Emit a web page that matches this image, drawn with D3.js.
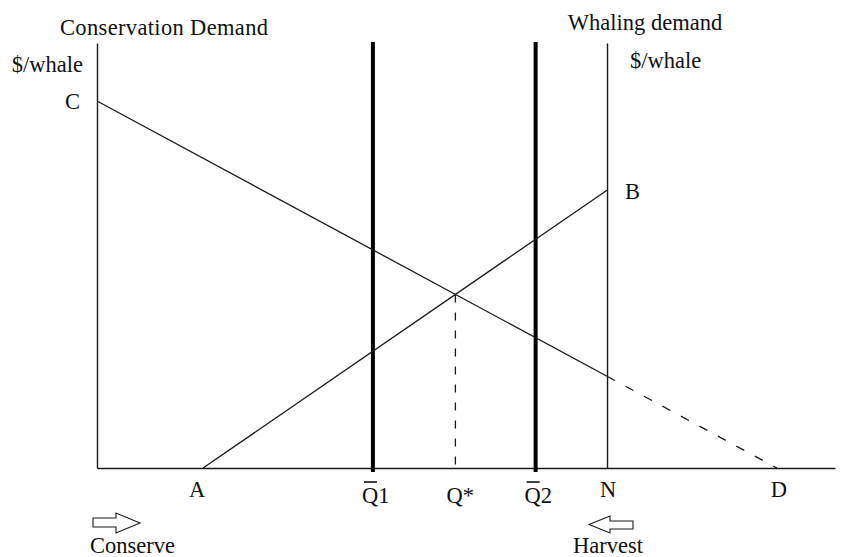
<!DOCTYPE html>
<html>
<head>
<meta charset="utf-8">
<script src="https://cdn.jsdelivr.net/npm/d3@7/dist/d3.min.js"></script>
<style>
  html, body { margin: 0; padding: 0; background: #fff; }
  svg text { font-family: "Liberation Serif", "Times New Roman", serif; font-size: 22.5px; fill: #111; }
</style>
</head>
<body>
<svg id="chart" width="846" height="557"></svg>
<script>
// ---- data (quantity of whales on x, $/whale on y) ----
const conservationDemandSolid = [{q: 0, p: 100}, {q: 100, p: 25}];
const conservationDemandDashed = [{q: 100, p: 25}, {q: 133.3, p: 0}];
const whalingDemand = [{q: 20.8, p: 0}, {q: 100, p: 75.7}];
const quotaLevels = [54.1, 86];
const quotaLabels = ["Q", "Q"];
const quotaSuffixes = ["1", "2"];
const pointLabels = ["A", "N", "D"];
const pointQ = [20.8, 100, 133.3];
const axisQMax = 144.7;
const axisPMax = 115.8;
const N = 100;

// ---- scales ----
const svg = d3.select("#chart");
const x = d3.scaleLinear().domain([0, axisQMax]).range([97, 835]);
const y = d3.scaleLinear().domain([0, axisPMax]).range([468, 43]);

const ink = "#1a1a1a";
const line = d3.line().x(d => x(d.q)).y(d => y(d.p));

function lineFn(pts) {
  const [a, b] = pts;
  const m = (b.p - a.p) / (b.q - a.q);
  return q => a.p + m * (q - a.q);
}
const cons = lineFn([conservationDemandSolid[0], conservationDemandDashed[1]]);
const mC = (conservationDemandDashed[1].p - conservationDemandSolid[0].p) / (conservationDemandDashed[1].q - conservationDemandSolid[0].q);
const mW = (whalingDemand[1].p - whalingDemand[0].p) / (whalingDemand[1].q - whalingDemand[0].q);
const qStar = (whalingDemand[0].p - mW * whalingDemand[0].q - conservationDemandSolid[0].p) / (mC - mW);
const pStar = cons(qStar);

// ---- axes ----
const xAxis = d3.axisBottom(x).tickValues([]).tickSizeOuter(0);
svg.append("g").attr("transform", `translate(0,${y(0)})`).call(xAxis)
  .call(g => g.select(".domain").attr("stroke", ink).attr("stroke-width", 1.4));
const yAxis = d3.axisLeft(y).tickValues([]).tickSizeOuter(0);
svg.append("g").attr("transform", `translate(${x(0)},0)`).call(yAxis)
  .call(g => g.select(".domain").attr("stroke", ink).attr("stroke-width", 1.4));
const yAxisR = d3.axisRight(y).tickValues([]).tickSizeOuter(0);
svg.append("g").attr("transform", `translate(${x(N)},0)`).call(yAxisR)
  .call(g => g.select(".domain").attr("stroke", ink).attr("stroke-width", 1.4));

// ---- quota thick lines ----
svg.selectAll("line.quota").data(quotaLevels).enter().append("line")
  .attr("class", "quota")
  .attr("x1", d => x(d)).attr("x2", d => x(d))
  .attr("y1", y(axisPMax) - 1).attr("y2", y(0) + 4)
  .attr("stroke", "#000").attr("stroke-width", 4);

// ---- demand lines ----
svg.append("path").datum(conservationDemandSolid).attr("d", line)
  .attr("fill", "none").attr("stroke", ink).attr("stroke-width", 1.3);
svg.append("path").datum(conservationDemandDashed).attr("d", line)
  .attr("fill", "none").attr("stroke", ink).attr("stroke-width", 1.3)
  .attr("stroke-dasharray", "9,12");
svg.append("path").datum(whalingDemand).attr("d", line)
  .attr("fill", "none").attr("stroke", ink).attr("stroke-width", 1.3);

// Q* dashed drop line
svg.append("line")
  .attr("x1", x(qStar)).attr("x2", x(qStar))
  .attr("y1", y(pStar)).attr("y2", y(0))
  .attr("stroke", ink).attr("stroke-width", 1.3)
  .attr("stroke-dasharray", "8,10");

// ---- titles / axis labels ----
svg.append("text").attr("x", x(0) - 37).attr("y", 35).attr("textLength", 208).attr("lengthAdjust", "spacing").text("Conservation Demand");
svg.append("text").attr("x", x(0) - 14).attr("y", 72).attr("text-anchor", "end").text("$/whale");
svg.append("text").attr("x", x(0) - 17).attr("y", y(100) + 8).attr("text-anchor", "end").text("C");
svg.append("text").attr("x", x(N) + 38).attr("y", 30).attr("text-anchor", "middle").text("Whaling demand");
svg.append("text").attr("x", x(N) + 23).attr("y", 68).text("$/whale");
svg.append("text").attr("x", x(whalingDemand[1].q) + 18).attr("y", y(whalingDemand[1].p) + 9).text("B");

// point labels on the x-axis
const ptOffsets = [-6, 1, 2];
svg.selectAll("text.pt").data(pointLabels).enter().append("text")
  .attr("class", "pt")
  .attr("x", (d, i) => x(pointQ[i]) + ptOffsets[i])
  .attr("y", 497)
  .attr("text-anchor", "middle")
  .text(d => d);

// quota labels with overbar
quotaLevels.forEach((q, i) => {
  const tx = x(q) - 11;
  const t = svg.append("text").attr("x", tx).attr("y", 503);
  t.append("tspan").text(quotaLabels[i]);
  t.append("tspan").text(quotaSuffixes[i]);
  svg.append("line")
    .attr("x1", tx + 2).attr("x2", tx + 15)
    .attr("y1", 482).attr("y2", 482)
    .attr("stroke", "#000").attr("stroke-width", 1.5);
});
svg.append("text").attr("x", x(qStar) - 9).attr("y", 503).text("Q*");

// ---- direction arrows ----
const arrowR = [[93,518],[116,518],[116,513],[140,523],[116,533],[116,527],[93,527]];
svg.append("polygon").attr("points", arrowR.map(p => p.join(",")).join(" "))
  .attr("fill", "#fff").attr("stroke", ink).attr("stroke-width", 1.1);
svg.append("text").attr("x", 90).attr("y", 553).text("Conserve");

const arrowL = [[633,521],[610,521],[610,516],[589,524.5],[610,533],[610,529],[633,529]];
svg.append("polygon").attr("points", arrowL.map(p => p.join(",")).join(" "))
  .attr("fill", "#fff").attr("stroke", ink).attr("stroke-width", 1.1);
svg.append("text").attr("x", 573).attr("y", 553).text("Harvest");
</script>
</body>
</html>
